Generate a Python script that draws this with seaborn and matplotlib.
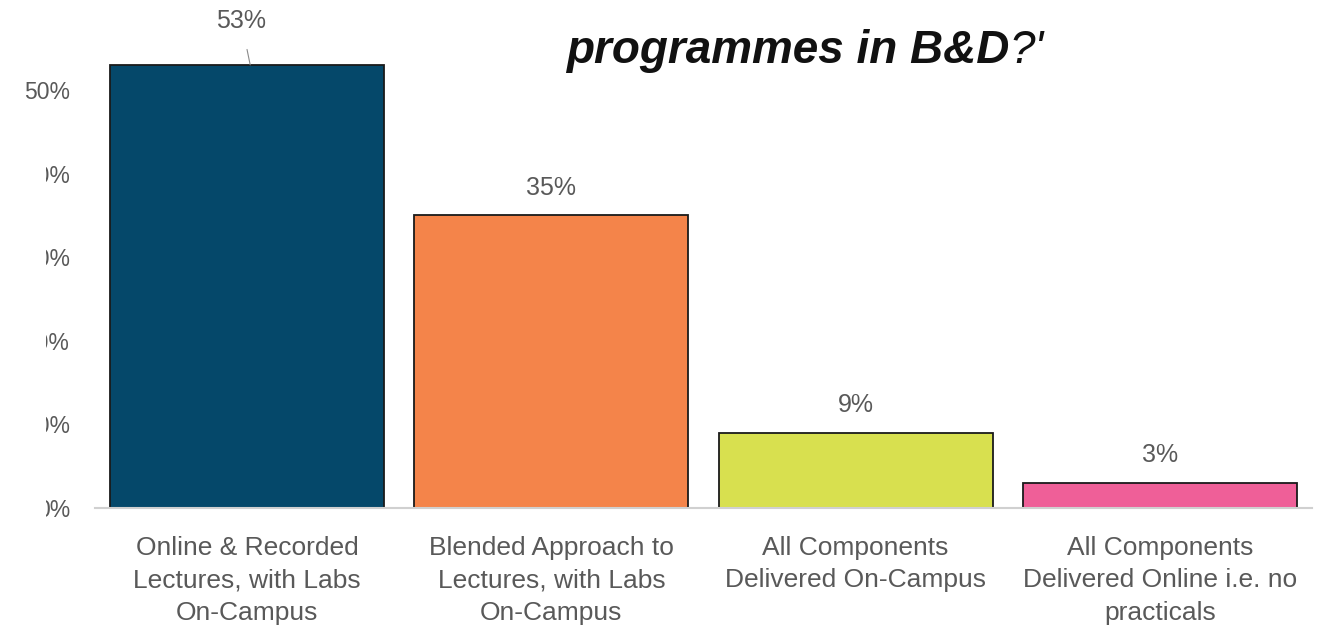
import matplotlib
matplotlib.use("Agg")
import matplotlib.pyplot as plt
import seaborn as sns
import pandas as pd
from matplotlib.patches import Rectangle

# data
categories = [
    "Online & Recorded\nLectures, with Labs\nOn-Campus",
    "Blended Approach to\nLectures, with Labs\nOn-Campus",
    "All Components\nDelivered On-Campus",
    "All Components\nDelivered Online i.e. no\npracticals",
]
shares = [0.53, 0.35, 0.09, 0.03]
value_labels = ["53%", "35%", "9%", "3%"]
bar_colors = ["#05486A", "#F4844A", "#D8E04F", "#EF5F98"]
y_ticks = [0.0, 0.1, 0.2, 0.3, 0.4, 0.5]
y_tick_labels = ["0%", "10%", "20%", "30%", "40%", "50%"]

df = pd.DataFrame({"mode": categories, "share": shares})

sns.set_style("white")
plt.rcParams["font.family"] = ["Liberation Sans", "DejaVu Sans"]

fig = plt.figure(figsize=(13.33, 6.29), dpi=100)
ax = fig.add_axes([0.0713, 0.1924, 0.9129, 0.7975])

sns.barplot(data=df, x="mode", y="share", hue="mode", palette=bar_colors,
            saturation=1, width=0.9, edgecolor="#1a1a1a", linewidth=1.3,
            legend=False, ax=ax)

ax.set_xlim(-0.5, 3.5)
ax.set_ylim(0, 0.6)
ax.set_yticks(y_ticks)
ax.set_yticklabels(y_tick_labels)
ax.set_xlabel("")
ax.set_ylabel("")
ax.tick_params(axis="y", length=0, pad=18, labelsize=16.5, labelcolor="#595959")
ax.tick_params(axis="x", length=0, pad=20, labelsize=19, labelcolor="#595959")
for lab in ax.get_xticklabels():
    lab.set_linespacing(1.45)

for side in ["top", "right", "left"]:
    ax.spines[side].set_visible(False)
ax.spines["bottom"].set_color("#D0D0D0")
ax.spines["bottom"].set_linewidth(1.5)

# value labels, the first one was pulled up with a leader line
for i, (v, lab) in enumerate(zip(shares, value_labels)):
    if i == 0:
        ax.annotate(lab, xy=(i + 0.01, v), xytext=(i - 0.02, v + 0.053),
                    ha="center", va="center", fontsize=18, color="#595959",
                    arrowprops=dict(arrowstyle="-", color="#8a8a8a", lw=0.8,
                                    shrinkA=10, shrinkB=0))
    else:
        ax.text(i, v + 0.033, lab, ha="center", va="center",
                fontsize=18, color="#595959")

# title (first line is cropped off in the source)
fig.text(0.757, 0.900, "programmes in B&D", ha="right", va="baseline",
         fontsize=33, fontweight="bold", fontstyle="italic", color="#111111")
fig.text(0.757, 0.900, "?'", ha="left", va="baseline",
         fontsize=33, fontstyle="italic", color="#111111")

# the source slide hides the left part of the lower tick labels
fig.patches.append(Rectangle((0, 0.165), 0.0345, 0.628, transform=fig.transFigure,
                             facecolor="white", edgecolor="none", zorder=10))

fig.savefig("out.png", dpi=100)
